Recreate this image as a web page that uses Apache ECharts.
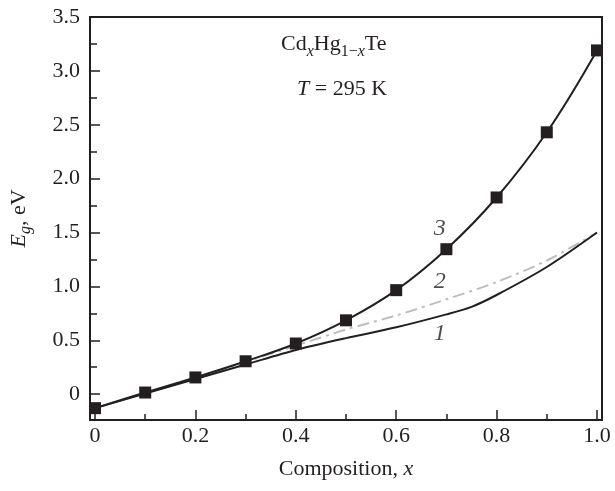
<!DOCTYPE html>
<html>
<head>
<meta charset="utf-8">
<script src="https://cdn.jsdelivr.net/npm/echarts@6/dist/echarts.min.js"></script>
<style>html,body{margin:0;padding:0;background:#fff}#c{width:615px;height:491px}</style>
</head>
<body>
<div id="c"></div>
<script>
// Curve 3: measured points (squares)
var x3 = [0, 0.1, 0.2, 0.3, 0.4, 0.5, 0.6, 0.7, 0.8, 0.9, 1.0];
var y3 = [-0.13, 0.015, 0.155, 0.305, 0.47, 0.685, 0.965, 1.345, 1.825, 2.43, 3.19];
// Curve 1: solid black
var x1 = [0, 0.1, 0.2, 0.3, 0.4, 0.5, 0.6, 0.7, 0.75, 0.8, 0.9, 1.0];
var y1 = [-0.13, 0.005, 0.14, 0.275, 0.41, 0.52, 0.62, 0.74, 0.81, 0.92, 1.18, 1.50];
// Curve 2: gray dash-dot
var x2 = [0, 0.1, 0.2, 0.3, 0.4, 0.5, 0.6, 0.7, 0.8, 0.9, 1.0];
var y2 = [-0.13, 0.01, 0.15, 0.30, 0.45, 0.60, 0.73, 0.88, 1.04, 1.24, 1.50];
// Curve number labels (data coords)
var curveLabels = ['1', '2', '3'];
var curveLabelX = [0.687, 0.687, 0.687];
var curveLabelY = [0.565, 1.04, 1.54];
// Tick values
var xMajor = [0, 0.2, 0.4, 0.6, 0.8, 1.0];
var xMinor = [0.1, 0.3, 0.5, 0.7, 0.9];
var yMajor = [0, 0.5, 1.0, 1.5, 2.0, 2.5, 3.0, 3.5];
var yMinor = [0.25, 0.75, 1.25, 1.75, 2.25, 2.75, 3.25];

function zip(a, b) { return a.map(function (v, i) { return [v, b[i]]; }); }

var INK = '#231f20';
var FONT = '"Liberation Serif", "DejaVu Serif", serif';
var FS = 22;
var fmt = function (v) { return v === 0 ? '0' : v.toFixed(1); };

var chart = echarts.init(document.getElementById('c'), null, {renderer: 'canvas'});
chart.setOption({
  animation: false,
  backgroundColor: '#fff',
  grid: {left: 90, top: 17, right: 13, bottom: 71, show: true, borderColor: INK, borderWidth: 2, backgroundColor: 'transparent'},
  xAxis: [{
    type: 'value', min: -0.01, max: 1.01,
    axisLine: {show: true, onZero: false, lineStyle: {color: INK, width: 2}},
    axisTick: {show: true, inside: true, length: 10, customValues: xMajor, lineStyle: {color: INK, width: 1.5}},
    axisLabel: {customValues: xMajor, formatter: fmt, color: INK, fontFamily: FONT, fontSize: FS, margin: 5},
    splitLine: {show: false},
    name: '{n|Composition, }{i|x}', nameLocation: 'middle', nameGap: 38,
    nameTextStyle: {rich: {n: {fontFamily: FONT, fontSize: FS, color: INK}, i: {fontFamily: FONT, fontSize: FS, color: INK, fontStyle: 'italic'}}}
  }, {
    type: 'value', min: -0.01, max: 1.01, position: 'bottom',
    axisLine: {show: false, onZero: false},
    axisTick: {show: true, inside: true, length: 6, customValues: xMinor, lineStyle: {color: INK, width: 1.5}},
    axisLabel: {show: false}, splitLine: {show: false}
  }],
  yAxis: [{
    type: 'value', min: -0.24, max: 3.5,
    axisLine: {show: true, onZero: false, lineStyle: {color: INK, width: 2}},
    axisTick: {show: true, inside: true, length: 10, customValues: yMajor, lineStyle: {color: INK, width: 1.5}},
    axisLabel: {customValues: yMajor, formatter: fmt, color: INK, fontFamily: FONT, fontSize: FS, margin: 10},
    splitLine: {show: false},
    name: '{i|E}{s|g}{n|, eV}', nameLocation: 'middle', nameGap: 56, nameRotate: 90,
    nameTextStyle: {rich: {
      i: {fontFamily: FONT, fontSize: FS, color: INK, fontStyle: 'italic', lineHeight: 30, verticalAlign: 'middle'},
      s: {fontFamily: FONT, fontSize: 16, color: INK, fontStyle: 'italic', lineHeight: 14, verticalAlign: 'bottom'},
      n: {fontFamily: FONT, fontSize: FS, color: INK, lineHeight: 30, verticalAlign: 'middle'}
    }}
  }, {
    type: 'value', min: -0.24, max: 3.5, position: 'left',
    axisLine: {show: false, onZero: false},
    axisTick: {show: true, inside: true, length: 7, customValues: yMinor, lineStyle: {color: INK, width: 1.5}},
    axisLabel: {show: false}, splitLine: {show: false}
  }],
  graphic: [{
    type: 'text', left: 281, top: 33, z: 100,
    style: {
      text: '{n|Cd}{s|x}{n|Hg}{s2|1−}{s|x}{n|Te}',
      rich: {
        n: {fontFamily: FONT, fontSize: FS, fill: INK, lineHeight: 32, verticalAlign: 'middle'},
        s: {fontFamily: FONT, fontSize: 16, fill: INK, fontStyle: 'italic', lineHeight: 14, verticalAlign: 'bottom'},
        s2: {fontFamily: FONT, fontSize: 16, fill: INK, lineHeight: 14, verticalAlign: 'bottom'}
      }
    }
  }, {
    type: 'text', left: 297, top: 78, z: 100,
    style: {
      text: '{i|T}{n| = 295 K}',
      rich: {
        n: {fontFamily: FONT, fontSize: FS, fill: INK},
        i: {fontFamily: FONT, fontSize: FS, fill: INK, fontStyle: 'italic'}
      }
    }
  }],
  series: [{
    type: 'line', name: '1', data: zip(x1, y1), smooth: 0.3, showSymbol: false, symbol: 'none',
    lineStyle: {color: INK, width: 2}, z: 3
  }, {
    type: 'line', name: '2', data: zip(x2, y2), smooth: 0.3, showSymbol: false, symbol: 'none',
    lineStyle: {color: '#bdbdbd', width: 2, type: [12, 5, 3, 5]}, z: 2
  }, {
    type: 'line', name: '3', data: zip(x3, y3), smooth: 0.4, symbol: 'rect', symbolSize: 12,
    itemStyle: {color: INK}, lineStyle: {color: INK, width: 2}, z: 4
  }, {
    type: 'scatter', data: curveLabels.map(function (t, i) { return {value: [curveLabelX[i], curveLabelY[i]], name: t}; }),
    symbolSize: 0, silent: true,
    label: {show: true, position: 'inside', formatter: '{b}', fontFamily: FONT, fontSize: 24, fontStyle: 'italic', color: INK}
  }]
});
</script>
</body>
</html>
